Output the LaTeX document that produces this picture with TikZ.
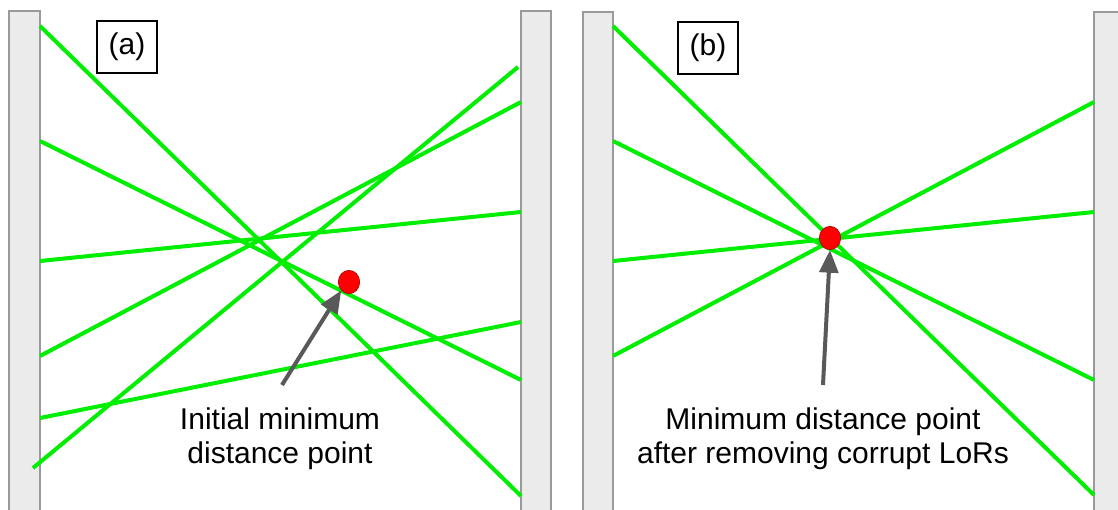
\documentclass[tikz,border=0pt]{standalone}
\usepackage{fontspec}
\setmainfont{Liberation Sans}
\usetikzlibrary{arrows.meta}
\definecolor{lorgreen}{HTML}{00EE00}
\definecolor{detfill}{HTML}{EBEBEB}
\definecolor{detdraw}{HTML}{9A9A9A}
\definecolor{arrowgray}{HTML}{595959}
\definecolor{dotred}{HTML}{FF0000}
\definecolor{dotedge}{HTML}{B00000}
\tikzset{
  detector/.style={fill=detfill, draw=detdraw, line width=1.1pt},
  lor/.style={draw=lorgreen, line width=3pt},
  tagbox/.style={draw=black, line width=1.5pt, minimum width=45pt, minimum height=39pt, inner sep=0pt, font=\fontsize{22.5}{26}\selectfont},
  pointdot/.style={ellipse, fill=dotred, draw=dotedge, line width=0.5pt, minimum width=16pt, minimum height=17.5pt, inner sep=0pt},
  pointer/.style={draw=arrowgray, line width=3pt, -{Triangle[length=17pt,width=14pt]}},
  caption/.style={anchor=base, inner sep=0pt, font=\fontsize{22.5}{26}\selectfont}
}
\usetikzlibrary{shapes.geometric}
\begin{document}
\begin{tikzpicture}[x=0.75pt,y=-0.75pt]
\useasboundingbox (0,0) rectangle (1118,510);
\clip (0,0) rectangle (1118,510);
\fill[white] (0,0) rectangle (1118,510);
% detectors
\draw[detector] (9,11) rectangle (40,530);
\draw[detector] (521,11) rectangle (551,530);
\draw[detector] (583,12) rectangle (613,530);
\draw[detector] (1094,12) rectangle (1130,530);
% panel (a) LoR end points
\coordinate (a1l) at (40,26);  \coordinate (a1r) at (521,496);
\coordinate (a2l) at (40,141); \coordinate (a2r) at (521,380);
\coordinate (a3l) at (40,261); \coordinate (a3r) at (521,212);
\coordinate (a4l) at (40,356); \coordinate (a4r) at (521,102);
\coordinate (a5l) at (40,418); \coordinate (a5r) at (521,322);
\coordinate (a6l) at (33,468); \coordinate (a6r) at (518,67);
\foreach \i in {1,...,6} {\draw[lor] (a\i l) -- (a\i r);}
% panel (b) LoR end points
\coordinate (b1l) at (613,26);  \coordinate (b1r) at (1094,495);
\coordinate (b2l) at (613,141); \coordinate (b2r) at (1094,380);
\coordinate (b3l) at (613,261); \coordinate (b3r) at (1094,212);
\coordinate (b4l) at (613,356); \coordinate (b4r) at (1094,102);
\foreach \i in {1,...,4} {\draw[lor] (b\i l) -- (b\i r);}
% labels
\node[tagbox] (taga) at (127,47) {(a)};
\node[tagbox] (tagb) at (708,48) {(b)};
% points
\node[pointdot] (pa) at (349,282) {};
\node[pointdot] (pb) at (830,238) {};
% captions
\node[caption] (ca1) at (280,429) {Initial minimum};
\node[caption] (ca2) at (280,463) {distance point};
\node[caption] (cb1) at (823,429) {Minimum distance point};
\node[caption] (cb2) at (823,463) {after removing corrupt LoRs};
% arrows
\coordinate (ta) at (282,385);
\coordinate (tb) at (823,385);
\draw[pointer] (ta) -- (pa.south west);
\draw[pointer] (tb) -- (pb.south);
\end{tikzpicture}
\end{document}
